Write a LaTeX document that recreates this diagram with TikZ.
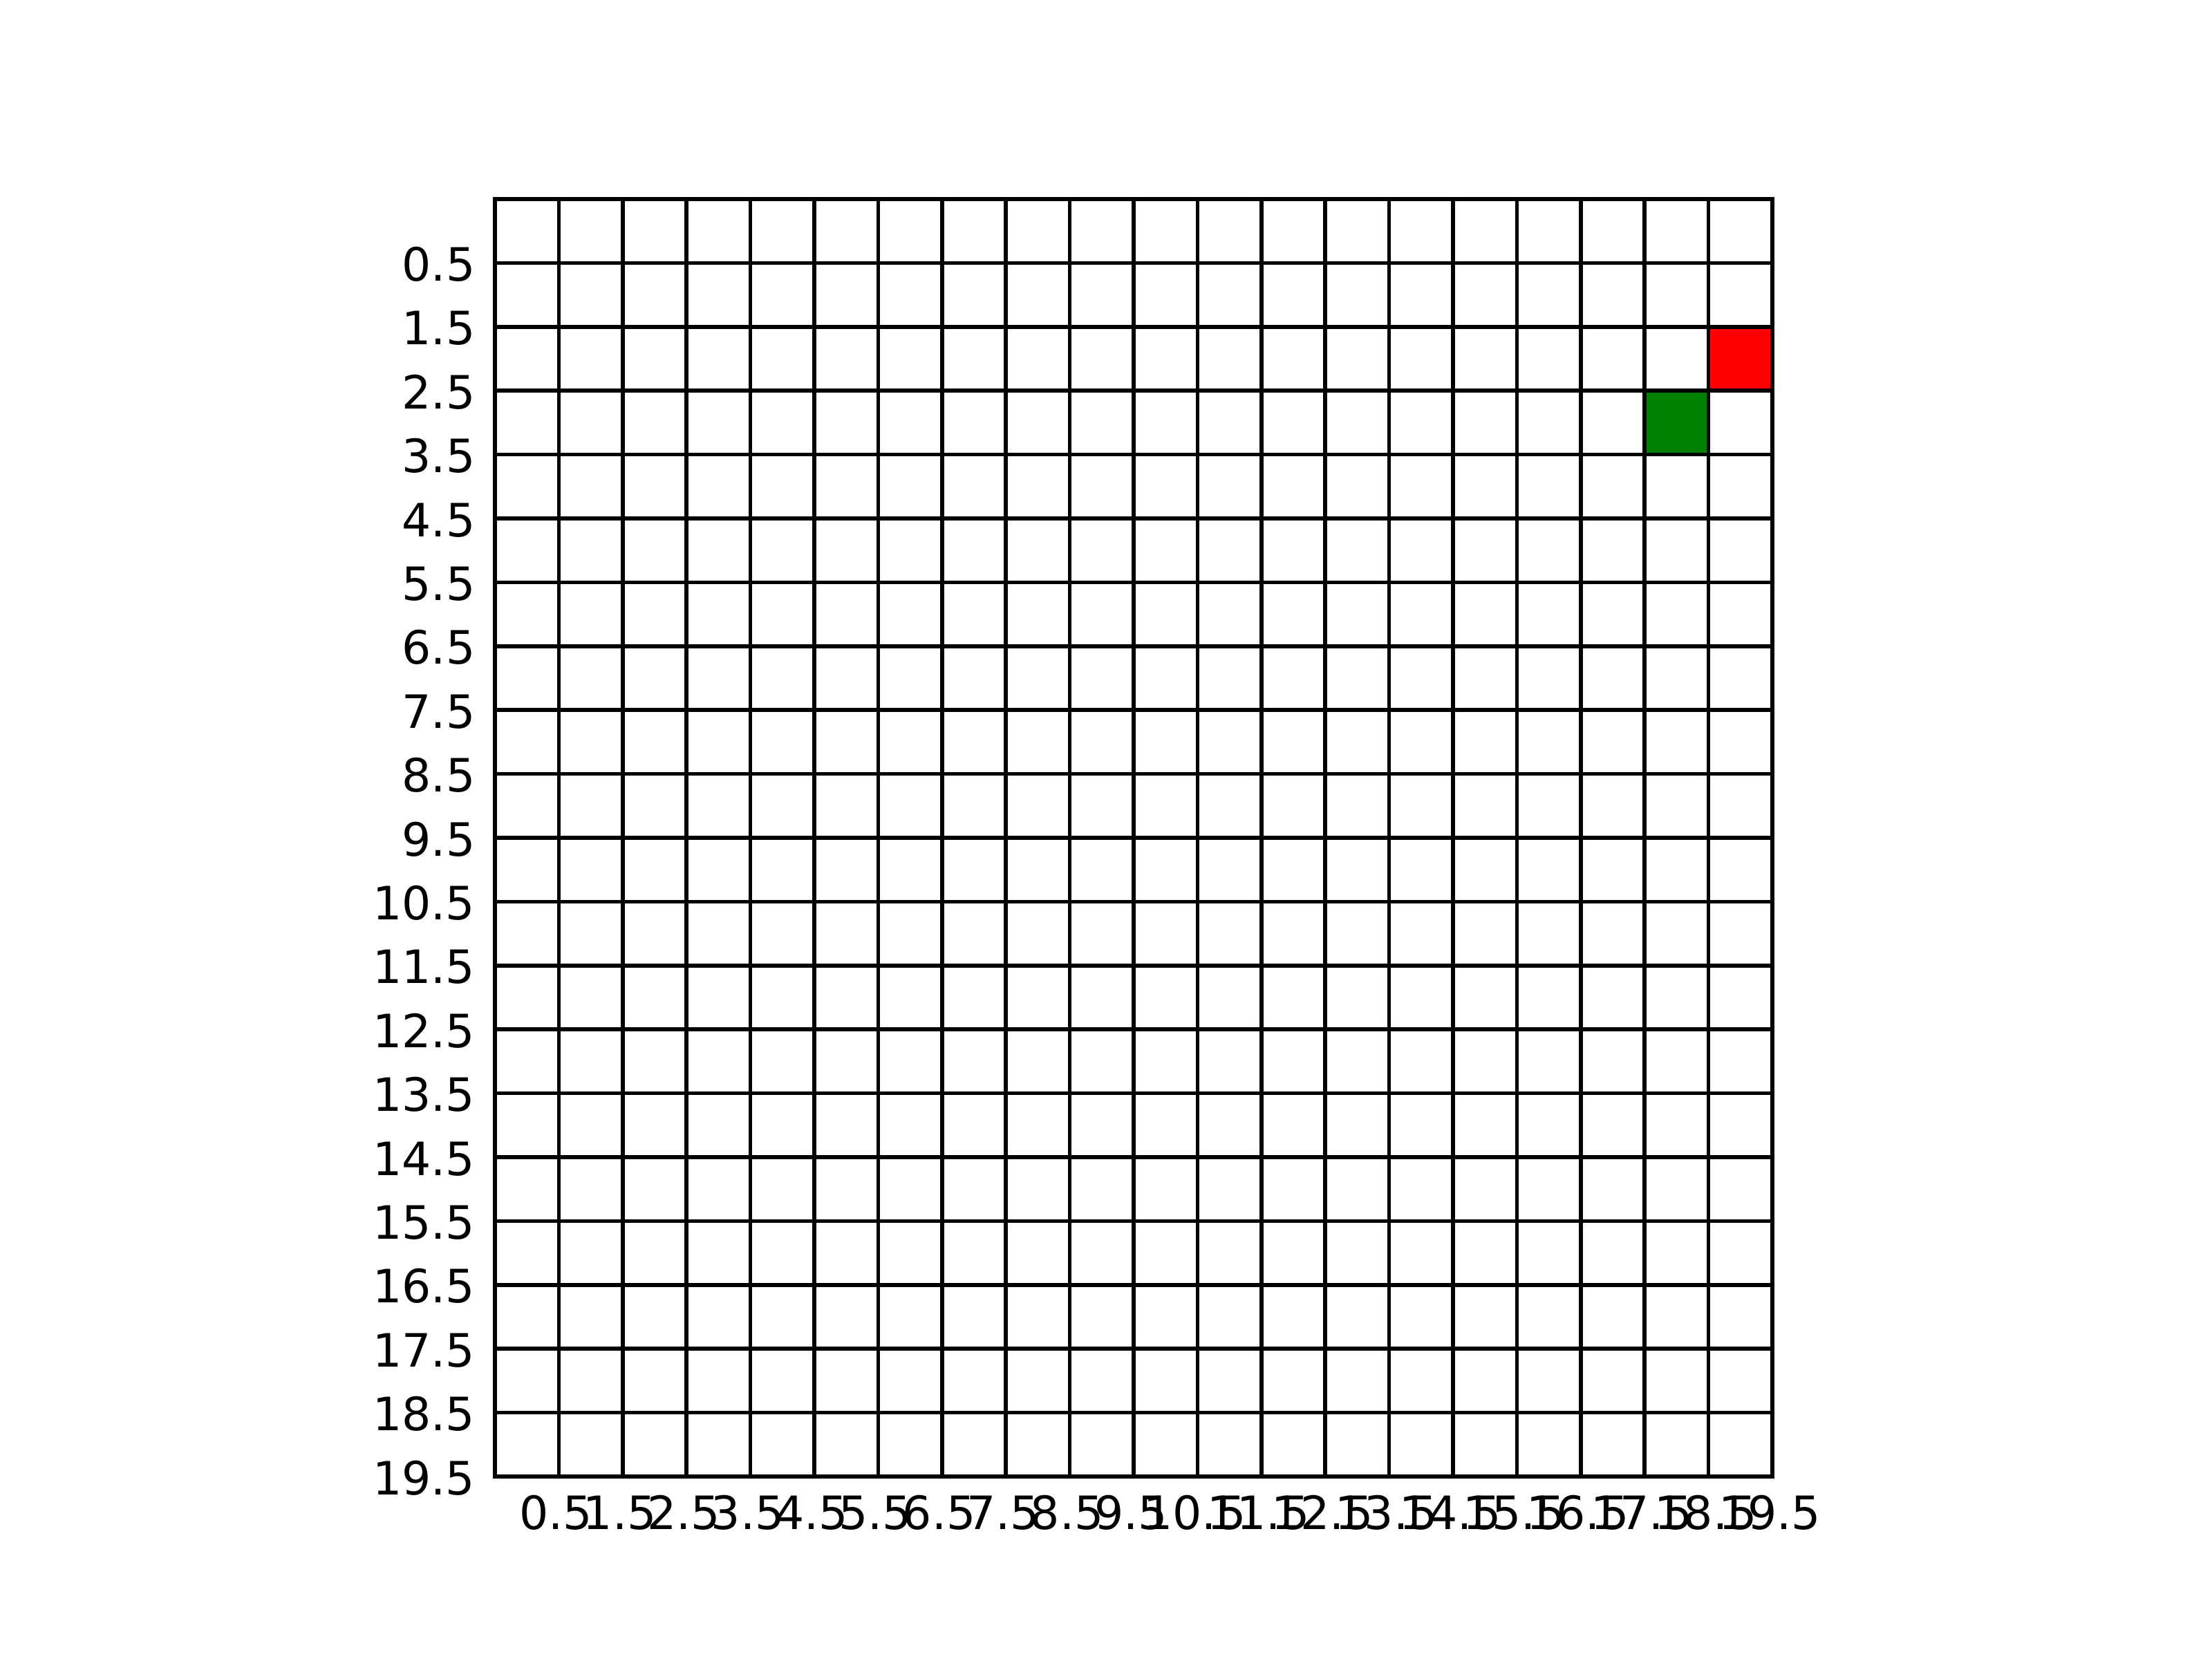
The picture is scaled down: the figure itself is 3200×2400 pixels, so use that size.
\documentclass[tikz,border=0pt]{standalone}
\usepackage{fontspec}
\setmainfont{DejaVu Sans}
\begin{document}
\begin{tikzpicture}[x=0.01cm,y=-0.01cm,
  gridline/.style={line width=1.58pt,draw=black},
  ticklab/.style={inner sep=0pt,font=\fontsize{18.9}{23}\selectfont}]
\useasboundingbox[fill=white] (0,0) rectangle (3200,2400);
\def\xo{716}\def\yo{288}\def\cs{92.4}
% coloured cells
\fill[red] ({\xo+19*\cs},{\yo+2*\cs}) rectangle ({\xo+20*\cs},{\yo+3*\cs});
\fill[green!50!black] ({\xo+18*\cs},{\yo+3*\cs}) rectangle ({\xo+19*\cs},{\yo+4*\cs});
% grid
\foreach \i in {1,...,19}{
  \draw[gridline] ({\xo+\i*\cs},\yo) -- ({\xo+\i*\cs},{\yo+20*\cs});
  \draw[gridline] (\xo,{\yo+\i*\cs}) -- ({\xo+20*\cs},{\yo+\i*\cs});
}
\draw[gridline,line join=miter] (\xo,\yo) rectangle ({\xo+20*\cs},{\yo+20*\cs});
% tick labels
\foreach \i [evaluate=\i as \v using {int(\i-1)}] in {1,...,20}{
  \node[ticklab,anchor=base east] (yl\i) at (688,{\yo+\i*\cs+26}) {\v.5};
  \node[ticklab,anchor=base] (xl\i) at ({\xo+\i*\cs-4},2212) {\v.5};
}
\end{tikzpicture}
\end{document}
